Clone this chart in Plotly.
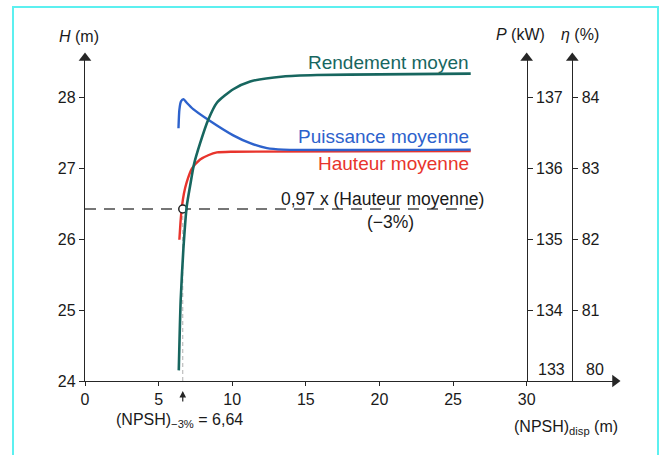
import plotly.graph_objects as go

# ---------------- data ----------------
npsh_rend = [6.37, 6.50, 6.68, 6.91, 7.14, 7.40, 7.82, 8.37, 8.96, 10.07, 11.22, 13.47, 15.76, 20.0, 26.2]
eta_rend = [80.15, 81.14, 81.85, 82.46, 82.75, 83.05, 83.35, 83.68, 83.92, 84.11, 84.22, 84.29, 84.31, 84.32, 84.33]

npsh_puis = [6.35, 6.41, 6.52, 6.69, 6.91, 7.35, 8.37, 10.07, 11.22, 12.36, 13.47, 26.2]
p_puis = [136.56, 136.82, 136.94, 136.97, 136.92, 136.83, 136.68, 136.46, 136.35, 136.28, 136.26, 136.26]

npsh_haut = [6.41, 6.50, 6.58, 6.72, 6.91, 7.26, 7.82, 8.37, 8.96, 10.07, 26.2]
h_haut = [25.99, 26.27, 26.45, 26.64, 26.80, 26.99, 27.12, 27.18, 27.22, 27.23, 27.24]

npsh_3 = 6.64
h_nominal = 27.24
ratio = 0.97
ref_line_x = [0, 26.85]

x_ticks = [0, 5, 10, 15, 20, 25, 30]
h_ticks = [24, 25, 26, 27, 28]
p_ticks = [134, 135, 136, 137]
eta_ticks = [81, 82, 83, 84]
p_min, eta_min = 133, 80

# ---------------- figure ----------------
FONT = "Liberation Sans, Arial, sans-serif"
AX = "#262626"
TXT = "#1a1a1a"
TEAL = "#17665f"
BLUE = "#2d62cc"
RED = "#e8342c"

X_MAX = 36.0
X_P, X_ETA = 30.0, 33.1
H_RANGE = [24, 28.55]
P_RANGE = [133, 137.55]
E_RANGE = [80, 84.55]

h_ref = ratio * h_nominal

fig = go.Figure()

# reference dashed line 0.97 x H
fig.add_trace(go.Scatter(x=ref_line_x, y=[h_ref, h_ref], mode="lines",
                         line=dict(color="#4a4a4a", width=1.3, dash="11px,8px"),
                         hoverinfo="skip", showlegend=False))
# vertical dashed at NPSH-3%
fig.add_trace(go.Scatter(x=[npsh_3, npsh_3], y=[H_RANGE[0], h_ref], mode="lines",
                         line=dict(color="#b0b0b0", width=1, dash="4px,3px"),
                         hoverinfo="skip", showlegend=False))

fig.add_trace(go.Scatter(x=npsh_haut, y=h_haut, mode="lines",
                         line=dict(color=RED, width=2.4, shape="spline", smoothing=0.6),
                         showlegend=False, yaxis="y"))
fig.add_trace(go.Scatter(x=npsh_puis, y=p_puis, mode="lines",
                         line=dict(color=BLUE, width=2.4, shape="spline", smoothing=0.6),
                         showlegend=False, yaxis="y2"))
fig.add_trace(go.Scatter(x=npsh_rend, y=eta_rend, mode="lines",
                         line=dict(color=TEAL, width=2.6, shape="spline", smoothing=0.6),
                         showlegend=False, yaxis="y3"))

# open circle marker
fig.add_trace(go.Scatter(x=[npsh_3], y=[h_ref], mode="markers",
                         marker=dict(size=8, color="white", line=dict(color="#222", width=1.5)),
                         showlegend=False, yaxis="y"))

# arrowheads of the axes (triangle markers at the axis ends)
fig.add_trace(go.Scatter(x=[0, X_MAX], y=[H_RANGE[1], H_RANGE[0]], mode="markers",
                         marker=dict(symbol=["triangle-up", "triangle-right"],
                                     size=11, color=AX, line=dict(width=0)),
                         cliponaxis=False, hoverinfo="skip", showlegend=False, yaxis="y"))
fig.add_trace(go.Scatter(x=[X_P], y=[P_RANGE[1]], mode="markers",
                         marker=dict(symbol="triangle-up", size=11, color=AX, line=dict(width=0)),
                         cliponaxis=False, hoverinfo="skip", showlegend=False, yaxis="y2"))
fig.add_trace(go.Scatter(x=[X_ETA], y=[E_RANGE[1]], mode="markers",
                         marker=dict(symbol="triangle-up", size=11, color=AX, line=dict(width=0)),
                         cliponaxis=False, hoverinfo="skip", showlegend=False, yaxis="y3"))

ann = []
def txt(x, y, text, color=TXT, size=18, xanchor="center", yanchor="middle"):
    ann.append(dict(x=x, y=y, xref="x", yref="y", text=text, showarrow=False,
                    font=dict(family=FONT, size=size, color=color),
                    xanchor=xanchor, yanchor=yanchor))

def ptxt(x, y, text, size=16, xanchor="center"):
    ann.append(dict(x=x, y=y, xref="paper", yref="paper", text=text, showarrow=False,
                    font=dict(family=FONT, size=size, color=TXT),
                    xanchor=xanchor, yanchor="middle"))

txt(26.2, 28.49, "Rendement moyen", TEAL, size=19, xanchor="right")
txt(26.2, 27.44, "Puissance moyenne", BLUE, size=19, xanchor="right")
txt(26.2, 27.07, "Hauteur moyenne", RED, size=19, xanchor="right")
txt(20.2, 26.56, "0,97 x (Hauteur moyenne)", size=17.5)
txt(20.73, 26.24, "(−3%)", size=17.5)

PH = 323.0  # plot height in px
def py(pix):  # pixel row of the page -> paper y
    return (381 - pix) / PH

ptxt(-0.011, py(36), "<i>H</i> (m)")
ptxt((520 - 85) / 530, py(34), "<i>P</i> (kW)")
ptxt((580 - 85) / 530, py(34), "<i>η</i> (%)")
ptxt((179 - 85) / 530, py(420), "(NPSH)<sub>−3%</sub> = 6,64")
ptxt((620 - 85) / 530, py(428), "(NPSH)<sub>disp</sub> (m)", xanchor="right")

# lowest labels of right axes (drawn above the x axis)
ann.append(dict(x=X_P, y=p_min, xref="x", yref="y2", text=str(p_min), showarrow=False,
                font=dict(family=FONT, size=16, color=TXT),
                xanchor="left", yanchor="bottom", xshift=9, yshift=1))
ann.append(dict(x=X_ETA, y=eta_min, xref="x", yref="y3", text=str(eta_min), showarrow=False,
                font=dict(family=FONT, size=16, color=TXT),
                xanchor="left", yanchor="bottom", xshift=12, yshift=1))

# small arrow under (NPSH)-3%
ann.append(dict(x=npsh_3, y=py(391), xref="x", yref="paper", text="", showarrow=True,
                arrowhead=2, arrowsize=1.1, arrowwidth=1.2, arrowcolor=AX,
                ax=0, ay=12, standoff=0))

shapes = [dict(type="rect", xref="paper", yref="paper",
               x0=(13 - 85) / 530, x1=(658 - 85) / 530, y0=py(462), y1=py(7),
               line=dict(color="#5cf0f0", width=2), layer="below")]

fig.update_layout(
    width=663, height=455,
    margin=dict(l=85, r=48, t=58, b=74),
    paper_bgcolor="white", plot_bgcolor="white",
    font=dict(family=FONT, size=16, color=TXT),
    annotations=ann,
    shapes=shapes,
    xaxis=dict(range=[0, X_MAX], tickvals=x_ticks, showline=True, linecolor=AX, linewidth=1.3,
               ticks="outside", ticklen=4, tickcolor=AX, showgrid=False, zeroline=False,
               tickfont=dict(size=16)),
    yaxis=dict(range=H_RANGE, tickvals=h_ticks, showline=True, linecolor=AX, linewidth=1.3,
               ticks="outside", ticklen=5, tickcolor=AX, showgrid=False, zeroline=False,
               tickfont=dict(size=16)),
    yaxis2=dict(range=P_RANGE, tickvals=p_ticks, overlaying="y", anchor="free",
                position=X_P / X_MAX, side="right", showline=True, linecolor=AX, linewidth=1.3,
                ticks="outside", ticklen=5, tickcolor=AX, showgrid=False, zeroline=False,
                tickfont=dict(size=16)),
    yaxis3=dict(range=E_RANGE, tickvals=eta_ticks, overlaying="y", anchor="free",
                position=X_ETA / X_MAX, side="right", showline=True, linecolor=AX, linewidth=1.3,
                ticks="outside", ticklen=5, tickcolor=AX, showgrid=False, zeroline=False,
                tickfont=dict(size=16)),
)

fig.write_html("out.html")
